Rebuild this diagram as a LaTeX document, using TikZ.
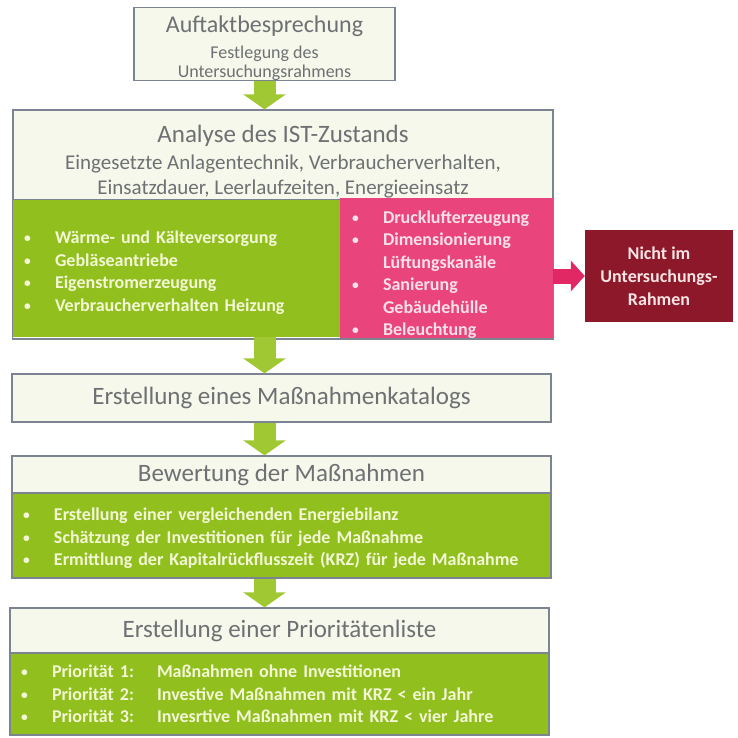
\documentclass[tikz,border=0pt]{standalone}
\usepackage{fontspec}
\usepackage{graphicx}
\setmainfont{Carlito}
\usetikzlibrary{arrows.meta}

\definecolor{paleFill}{RGB}{245,248,234}
\definecolor{frameGray}{RGB}{125,132,145}
\definecolor{headGray}{RGB}{110,112,115}
\definecolor{listGreen}{RGB}{145,192,30}
\definecolor{listPink}{RGB}{233,68,124}
\definecolor{darkRed}{RGB}{141,24,42}
\definecolor{arrowGreen}{RGB}{160,200,50}
\definecolor{arrowPink}{RGB}{225,40,100}
\definecolor{greenText}{RGB}{243,247,214}
\definecolor{pinkText}{RGB}{250,225,232}
\definecolor{redText}{RGB}{250,228,228}

\newcommand{\pkt}{\makebox[31pt][l]{\raisebox{1pt}{\scalebox{0.75}{\textbullet}}}}
\newcommand{\nopkt}{\hspace*{31pt}}
\newcommand{\oben}[1]{\rule{0pt}{#1}}

\begin{document}
\begin{tikzpicture}[x=1pt,y=-1pt,
	headbox/.style={draw=frameGray,line width=1.3pt,fill=paleFill,text=headGray,align=center,inner sep=0pt},
	listbox/.style={fill=listGreen,text=greenText,align=left,inner xsep=11pt,inner ysep=0pt,
		font=\fontsize{18}{22.5}\selectfont\bfseries},
	frame/.style={draw=frameGray,line width=1.3pt},
	greenarrow/.style={draw=arrowGreen,line width=22pt,-{Triangle[length=15pt,width=42pt]}},
	pinkarrow/.style={draw=arrowPink,line width=15pt,-{Triangle[length=14pt,width=30pt]}}]
	\useasboundingbox (0,0) rectangle (737,738);

	% Auftakt
	\node[headbox,minimum width=261pt,minimum height=72pt,font=\fontsize{18}{19}\selectfont] (auftakt) at (264.5,44)
		{{\fontsize{24}{26}\selectfont\oben{25pt}Auftaktbesprechung}\\[7pt]Festlegung des\\Untersuchungsrahmens};

	% Analyse
	\node[headbox,minimum width=540pt,minimum height=90pt,font=\fontsize{21}{25}\selectfont] (anahead) at (283,155)
		{{\fontsize{25}{27}\selectfont\oben{30pt}Analyse des IST-Zustands}\\[2pt]Eingesetzte Anlagentechnik, Verbraucherverhalten,\\Einsatzdauer, Leerlaufzeiten, Energieeinsatz};
	\node[listbox,text width=305pt,minimum height=137pt] (anagreen) at (176.5,268.5)
		{\oben{21pt}\pkt Wärme- und Kälteversorgung\\\pkt Gebläseantriebe\\\pkt Eigenstromerzeugung\\\pkt Verbraucherverhalten Heizung};
	\node[listbox,fill=listPink,text=pinkText,inner xsep=12pt,text width=189pt,minimum height=137pt] (anapink) at (446.5,268.5)
		{\oben{25pt}\pkt Drucklufterzeugung\\\pkt Dimensionierung\\\nopkt Lüftungskanäle\\\pkt Sanierung\\\nopkt Gebäudehülle\\\pkt Beleuchtung};
	\draw[frame] (anahead.north west) rectangle (anapink.south east);

	\node[fill=darkRed,text=redText,align=center,minimum width=148pt,minimum height=92pt,
		font=\fontsize{18}{23}\selectfont\bfseries] (ausserhalb) at (659,276) {Nicht im\\Untersuchungs-\\Rahmen};

	% Katalog
	\node[headbox,minimum width=539pt,minimum height=48pt,font=\fontsize{25}{27}\selectfont] (katalog) at (281.5,398)
		{Erstellung eines Maßnahmenkatalogs};

	% Bewertung
	\node[headbox,minimum width=539pt,minimum height=37pt,font=\fontsize{25}{27}\selectfont] (bewertung) at (281.5,474.5)
		{Bewertung der Maßnahmen};
	\node[listbox,frame,text width=517pt,minimum height=85pt] (bewliste) at (281.5,535.5)
		{\oben{19pt}\pkt Erstellung einer vergleichenden Energiebilanz\\\pkt Schätzung der Investitionen für jede Maßnahme\\\pkt Ermittlung der Kapitalrückflusszeit (KRZ) für jede Maßnahme};

	% Prioritaeten
	\node[headbox,minimum width=539pt,minimum height=45pt,font=\fontsize{25}{27}\selectfont] (prioritaet) at (279.5,630.5)
		{Erstellung einer Prioritätenliste};
	\node[listbox,frame,text width=517pt,minimum height=82pt] (prioliste) at (279.5,694)
		{\pkt\makebox[105pt][l]{Priorität 1:}Maßnahmen ohne Investitionen\\
		 \pkt\makebox[105pt][l]{Priorität 2:}Investive Maßnahmen mit KRZ < ein Jahr\\
		 \pkt\makebox[105pt][l]{Priorität 3:}Invesrtive Maßnahmen mit KRZ < vier Jahre};

	\draw[greenarrow] (auftakt.south) -- (auftakt.south |- anahead.north);
	\draw[greenarrow] (auftakt.south |- anagreen.south) -- (auftakt.south |- katalog.north);
	\draw[greenarrow] (auftakt.south |- katalog.south) -- (auftakt.south |- bewertung.north);
	\draw[greenarrow] (auftakt.south |- bewliste.south) -- (auftakt.south |- prioritaet.north);
	\draw[pinkarrow] (anapink.east |- ausserhalb.west) -- (ausserhalb.west);
\end{tikzpicture}
\end{document}
